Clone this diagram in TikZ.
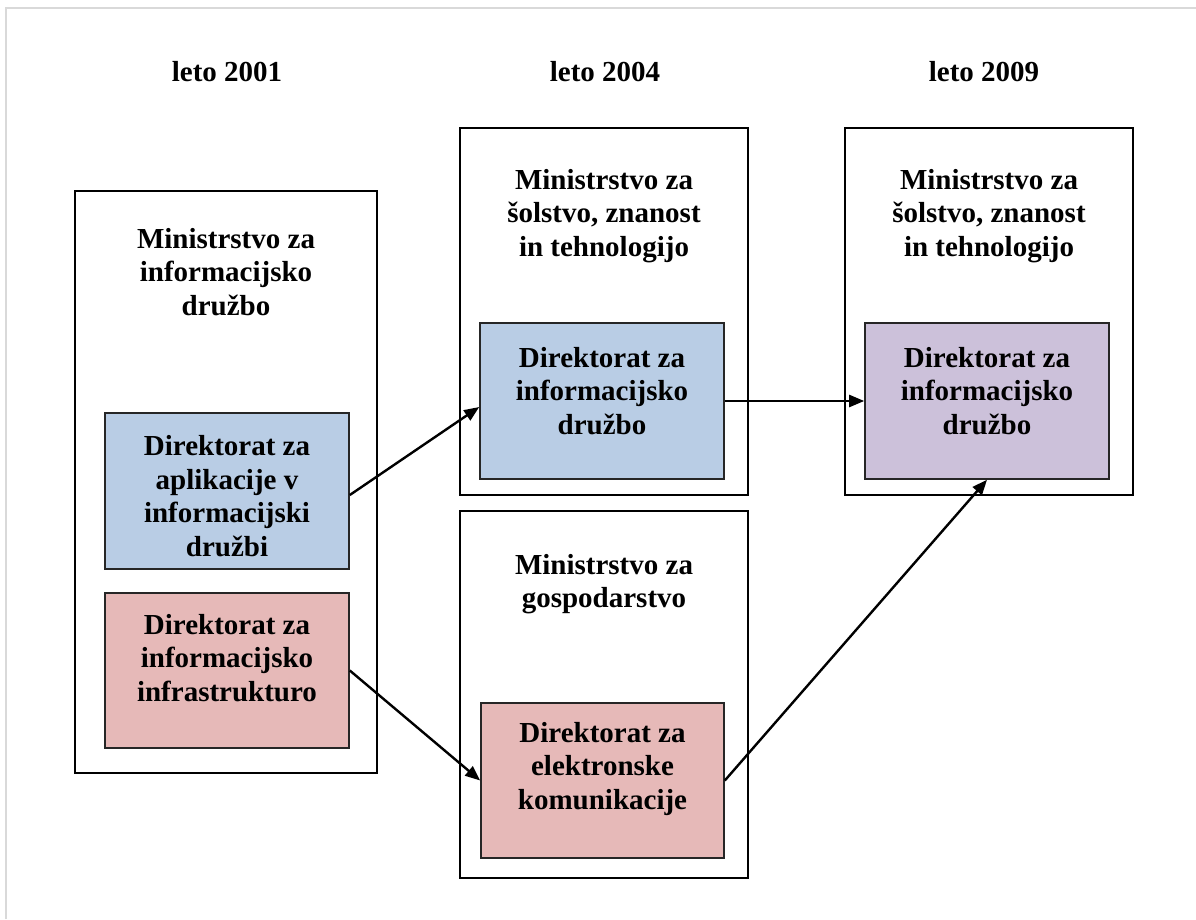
\documentclass[tikz,border=0pt]{standalone}
\usepackage{fontspec}
\setmainfont{Liberation Serif}
\usetikzlibrary{arrows.meta}
\definecolor{boxblue}{HTML}{B9CDE5}
\definecolor{boxpink}{HTML}{E6B9B8}
\definecolor{boxpurple}{HTML}{CCC1DA}
\definecolor{framegray}{HTML}{D9D9D9}
\begin{document}
\begin{tikzpicture}[x=1pt, y=-1pt,
  outerbox/.style={draw=black, line width=2pt, rectangle, inner sep=0pt, minimum width=288pt, minimum height=367pt},
  innerbox/.style={draw=black!85, line width=1.6pt, rectangle, inner sep=0pt, minimum width=244pt, minimum height=156pt},
  lbl/.style={align=center, inner sep=0pt, font=\bfseries\fontsize{29}{33.5}\selectfont},
  conn/.style={line width=2.4pt, -{Triangle[length=15pt,width=12pt]}}
]
\useasboundingbox (0,0) rectangle (1196,919);
\draw[framegray, line width=2.5pt] (6,919) -- (6,8) -- (1196,8);

% titles
\node[lbl] (t1) at (227,72) {leto 2001};
\node[lbl] (t2) at (605,72) {leto 2004};
\node[lbl] (t3) at (984,72) {leto 2009};

% outer boxes
\node[outerbox, minimum width=302pt, minimum height=582pt] (A) at (226,482) {};
\node[outerbox] (B) at (604,311.5) {};
\node[outerbox] (C) at (604,694.5) {};
\node[outerbox] (D) at (989,311.5) {};

% inner boxes
\node[innerbox, fill=boxblue] (blue1) at (227,491) {};
\node[innerbox, fill=boxpink, minimum height=155pt] (pink1) at (227,670.5) {};
\node[innerbox, fill=boxblue] (blue2) at (602,401) {};
\node[innerbox, fill=boxpink, minimum width=243pt, minimum height=155pt] (pink2) at (602.5,780.5) {};
\node[innerbox, fill=boxpurple] (purple) at (987,401) {};

% labels
\node[lbl] (la) at (226,272) {Ministrstvo za\\informacijsko\\družbo};
\node[lbl] (lb1) at (227,496) {Direktorat za\\aplikacije v\\informacijski\\družbi};
\node[lbl] (lp1) at (227,658) {Direktorat za\\informacijsko\\infrastrukturo};
\node[lbl] (lb) at (604,216) {Ministrstvo za\\šolstvo, znanost\\in tehnologijo};
\node[lbl] (lb2) at (602,391) {Direktorat za\\informacijsko\\družbo};
\node[lbl] (lc) at (604,584) {Ministrstvo za\\gospodarstvo};
\node[lbl] (lp2) at (602.5,769) {Direktorat za\\elektronske\\komunikacije};
\node[lbl] (ld) at (989,216) {Ministrstvo za\\šolstvo, znanost\\in tehnologijo};
\node[lbl] (lpu) at (987,391) {Direktorat za\\informacijsko\\družbo};

% connectors
\draw[conn] ([yshift=-4pt]blue1.east) -- ([yshift=-6pt]blue2.west);
\draw[conn] (blue2.east) -- (purple.west);
\draw[conn] (pink1.east) -- (pink2.west);
\draw[conn] (pink2.east) -- (purple.south);
\end{tikzpicture}
\end{document}
